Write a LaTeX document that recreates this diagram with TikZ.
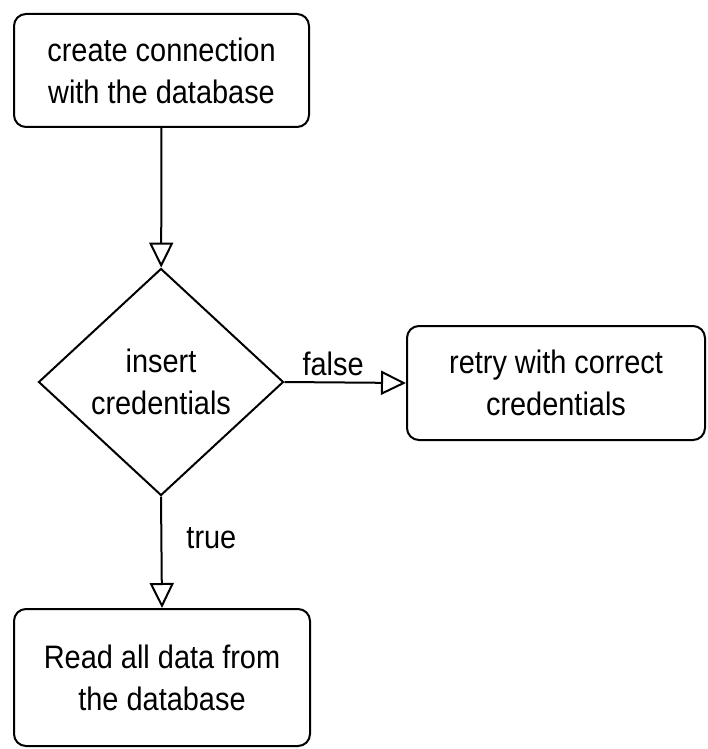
\documentclass[tikz,border=0pt]{standalone}
\usepackage{fontspec}
\setmainfont{Liberation Sans}[FakeStretch=0.89]
\usetikzlibrary{shapes.geometric,arrows.meta}
\begin{document}
\begin{tikzpicture}[x=1pt,y=-1pt,
  every node/.style={font=\fontsize{32.5}{42}\selectfont, align=center, inner sep=0pt},
  procbox/.style={draw, line width=2pt, rounded corners=12pt},
  decbox/.style={draw, line width=2pt, diamond, aspect=1.08},
  flow/.style={line width=2pt, -{Triangle[open,length=25pt,width=24pt]}}
]
\useasboundingbox (0,0) rectangle (708,749);
\node[procbox, minimum width=295pt, minimum height=113pt] (top) at (161.5,70.5) {create connection\\with the database};
\node[decbox, minimum width=245pt, minimum height=227pt] (dec) at (161,382) {insert\\credentials};
\node[procbox, minimum width=298pt, minimum height=114pt] (retry) at (556,383) {retry with correct\\credentials};
\node[procbox, minimum width=296pt, minimum height=137pt] (read) at (162,677.5) {Read all data from\\the database};
\draw[flow] (top) -- (dec);
\draw[flow] (dec.east) -- node[pos=0.4, anchor=base, yshift=7pt] (lf) {false} (retry.west);
\draw[flow] (dec.south) -- node[pos=0.465, anchor=base west, xshift=24pt] (lt) {true} (read.north);
\end{tikzpicture}
\end{document}
